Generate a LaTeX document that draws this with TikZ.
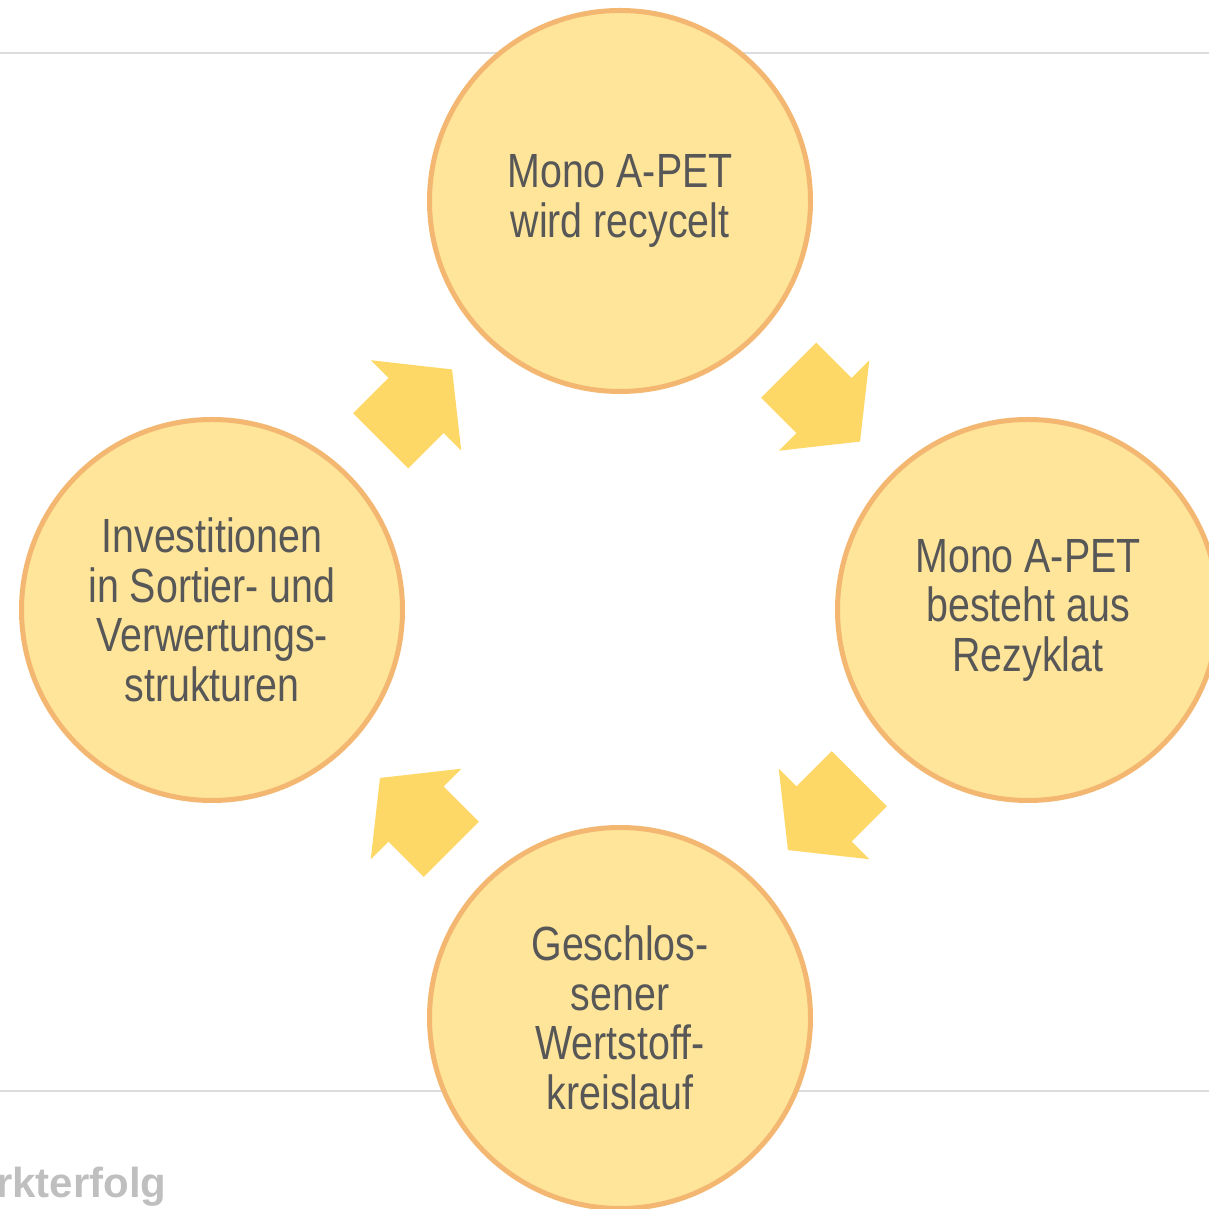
\documentclass[tikz,border=0pt]{standalone}
\usepackage{fontspec}
\setmainfont{Liberation Sans}
\newfontfamily\narrowfont[FakeStretch=0.82]{Liberation Sans}
\usetikzlibrary{calc}

\definecolor{circlefill}{HTML}{FEE599}
\definecolor{circleline}{HTML}{F3B771}
\definecolor{arrowfill}{HTML}{FDD866}
\definecolor{stagetext}{HTML}{575757}
\definecolor{rulegray}{HTML}{DCDCDC}
\definecolor{footergray}{HTML}{BFBFBF}

\begin{document}
\begin{tikzpicture}[
        x=1pt,
        y=1pt,
        stage/.style={
            circle,
            fill=circlefill,
            draw=circleline,
            line width=5pt,
            minimum size=381pt,
            inner sep=0pt,
            align=center,
            text=stagetext,
            font=\narrowfont\fontsize{48}{49.5}\selectfont
        },
        cyclearrow/.style={
            fill=arrowfill
        },
        rule/.style={
            draw=rulegray,
            line width=1.5pt
        },
        footer/.style={
            font=\bfseries\fontsize{42}{44}\selectfont,
            text=footergray
        }
    ]

    \clip (0,0) rectangle (1209,1209);

    % ---------------------------------------------------------
    % Block arrow between two stages
    % Arguments:
    % #1 = centre coordinate
    % #2 = direction angle
    % ---------------------------------------------------------
    \newcommand{\drawCycleArrow}[2]{
    \begin{scope}[shift={(#1)}, rotate=#2]
        \fill[cyclearrow]
            (-50,39) -- (0,39) -- (0,64) -- (51,0)
            -- (0,-64) -- (0,-39) -- (-50,-39) -- cycle;
    \end{scope}
    }

    % Horizontal rules (behind the circles)
    \draw[rule] (0,1156) -- (1209,1156);
    \draw[rule] (0,118) -- (1209,118);

    % Footer
    \node[footer, anchor=base east] (footer) at (170,11) {rkterfolg};

    % ---------------------------------------------------------
    % Stages
    % ---------------------------------------------------------
    \node[stage] (mono) at (620,1008) {Mono A-PET\\wird recycelt};
    \node[stage] (rezyklat) at (1028,599) {Mono A-PET\\besteht aus\\Rezyklat};
    \node[stage] (kreislauf) at (620,191) {Geschlos-\\sener\\Wertstoff-\\kreislauf};
    \node[stage] (invest) at (212,599) {Investitionen\\in Sortier- und\\Verwertungs-\\strukturen};

    % ---------------------------------------------------------
    % Arrows, halfway between neighbouring stages
    % ---------------------------------------------------------
    \coordinate (a1) at ($(invest)!0.5!(mono)$);
    \coordinate (a2) at ($(mono)!0.5!(rezyklat)$);
    \coordinate (a3) at ($(rezyklat)!0.5!(kreislauf)$);
    \coordinate (a4) at ($(kreislauf)!0.5!(invest)$);

    \drawCycleArrow{a1}{45}
    \drawCycleArrow{a2}{-45}
    \drawCycleArrow{a3}{-135}
    \drawCycleArrow{a4}{135}

\end{tikzpicture}
\end{document}
